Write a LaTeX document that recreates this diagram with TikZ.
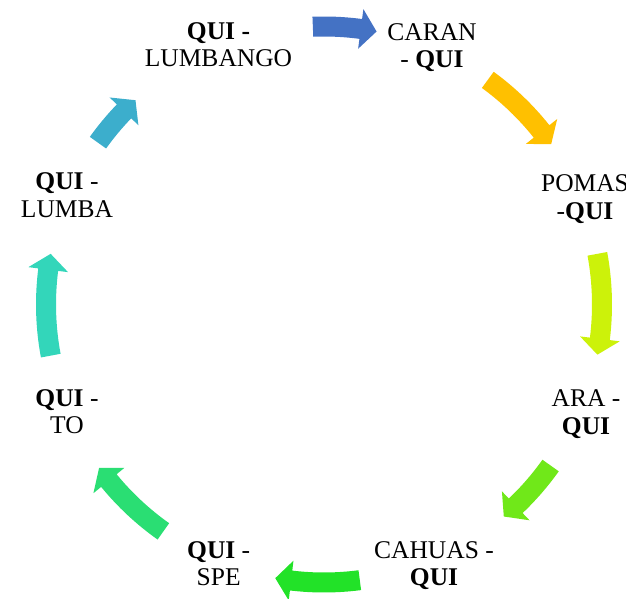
\documentclass[tikz,border=0pt]{standalone}
\usepackage{fontspec}
\setmainfont{Liberation Serif}
\usetikzlibrary{calc}
\definecolor{cBlue}{HTML}{4472C4}
\definecolor{cYellow}{HTML}{FFC000}
\definecolor{cLime}{HTML}{CCF20A}
\definecolor{cGreenA}{HTML}{70E819}
\definecolor{cGreenB}{HTML}{22E228}
\definecolor{cGreenC}{HTML}{2ADE73}
\definecolor{cTeal}{HTML}{33D6BA}
\definecolor{cCyan}{HTML}{3CAECC}
\newcommand\cycarrow[3]{%
  \pgfmathsetmacro\cyab{#3+((#2>#3) ? 1 : -1)*3.3}%
  \fill[#1] ($(O)+(#2:268pt)$) arc[start angle=#2,end angle=\cyab,radius=268pt]
    -- ($(O)+(\cyab:258pt)$) -- ($(O)+(#3:278pt)$) -- ($(O)+(\cyab:298pt)$)
    -- ($(O)+(\cyab:288pt)$) arc[start angle=\cyab,end angle=#2,radius=288pt] -- cycle;}
\tikzset{lbl/.style={align=center,inner sep=0pt,font=\fontsize{25.5pt}{27.5pt}\selectfont}}
\begin{document}
\begin{tikzpicture}[x=1pt,y=1pt]
\useasboundingbox (0,0) rectangle (626,599);
\coordinate (O) at (324,294.5);
\node[lbl] (n1) at (218.5,554.4) {\textbf{QUI -}\\LUMBANGO};
\node[lbl] (n2) at (432,551.6) {CARAN\\- \textbf{QUI}};
\node[lbl] (n3) at (585,400) {POMAS\\-\textbf{QUI}};
\node[lbl] (n4) at (586,184.9) {ARA -\\\textbf{QUI}};
\node[lbl] (n5) at (434,33.3) {CAHUAS -\\\textbf{QUI}};
\node[lbl] (n6) at (218.7,35.5) {\textbf{QUI} -\\SPE};
\node[lbl] (n7) at (67,187.1) {\textbf{QUI} -\\TO};
\node[lbl] (n8) at (67,403.7) {\textbf{QUI} -\\LUMBA};
\cycarrow{cBlue}{92.3}{79.1}
\cycarrow{cYellow}{53.9}{35.2}
\cycarrow{cLime}{10.5}{-10.4}
\cycarrow{cGreenA}{-35.4}{-49.7}
\cycarrow{cGreenB}{-82.6}{-100.1}
\cycarrow{cGreenC}{234.7}{216}
\cycarrow{cTeal}{190.6}{169.5}
\cycarrow{cCyan}{144.4}{132.7}
\end{tikzpicture}
\end{document}
